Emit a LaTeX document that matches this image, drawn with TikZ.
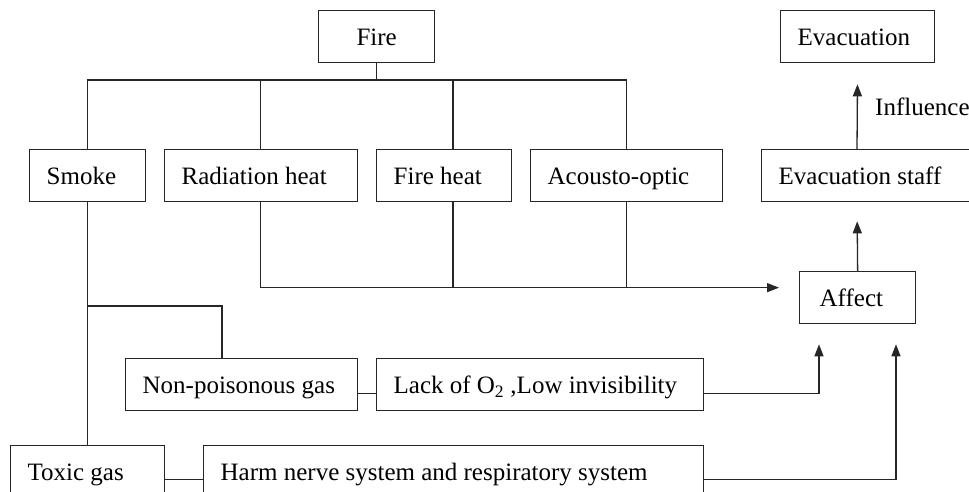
\documentclass[tikz,border=0pt]{standalone}
\usepackage{fontspec}
\setmainfont{Liberation Serif}
\usetikzlibrary{arrows.meta}
\newcommand{\bxstrut}{\rule[-6pt]{0pt}{30pt}}
\newcommand{\padl}[2]{\makebox[#1][l]{\hspace*{17pt}\bxstrut#2}}
\tikzset{
  box/.style={draw=black!85, line width=1.3pt, inner sep=0pt, minimum height=52pt, anchor=north west, font=\fontsize{25}{28}\selectfont},
  ln/.style={draw=black!85, line width=1.3pt},
  arr/.style={ln, -{Triangle[length=12pt,width=9pt]}},
}
\begin{document}
\begin{tikzpicture}[x=1pt,y=-1pt]
\useasboundingbox (0,0) rectangle (969,492);
\clip (0,0) rectangle (969,492);
\fill[white] (0,0) rectangle (969,492);
% boxes
\node[box, minimum width=116pt] (fire) at (318,10) {\bxstrut Fire};
\node[box] (evac) at (780,10) {\padl{154pt}{Evacuation}};
\node[box] (smoke) at (29,149) {\padl{116pt}{Smoke}};
\node[box] (rad) at (164,149) {\padl{193pt}{Radiation heat}};
\node[box] (fheat) at (376,149) {\padl{135pt}{Fire heat}};
\node[box] (acou) at (530,149) {\padl{192pt}{Acousto-optic}};
\node[box] (staff) at (761,149) {\padl{215pt}{Evacuation staff}};
\node[box] (affect) at (799,271) {\padl{116pt}{\hspace*{3pt}Affect}};
\node[box] (nonp) at (125,358) {\padl{232pt}{Non-poisonous gas}};
\node[box] (lack) at (376,358) {\padl{327pt}{Lack of O\textsubscript{2} ,Low invisibility}};
\node[box] (toxic) at (10,445) {\padl{154pt}{Toxic gas}};
\node[box] (harm) at (203,445) {\padl{500pt}{Harm nerve system and respiratory system}};
\node[anchor=west, inner sep=0pt, font=\fontsize{25}{28}\selectfont] (infl) at (875,107) {Influence};
% tree from fire
\coordinate (bus) at (0,80);
\draw[ln] (fire.south) -- (fire.south |- bus);
\draw[ln] (smoke.north) -- (smoke.north |- bus) -- (acou.north |- bus) -- (acou.north);
\draw[ln] ([xshift=-0.5pt]rad.north) -- ([xshift=-0.5pt]rad.north |- bus);
\draw[ln] ([xshift=77pt]fheat.north west) -- ([xshift=77pt]fheat.north west |- bus);
% heat etc to affect
\coordinate (hl) at ([xshift=-20pt,yshift=10pt]affect.west);
\draw[arr] ([xshift=-0.5pt]rad.south) |- (hl);
\draw[ln] ([xshift=77pt]fheat.south west) -- ([xshift=77pt]fheat.south west |- hl);
\draw[ln] (acou.south) -- (acou.south |- hl);
% affect to staff, staff to evacuation
\draw[arr, shorten >=19pt] (affect.north) -- ([xshift=96pt]staff.south west);
\draw[arr, shorten >=21pt] ([xshift=96pt]staff.north west) -- (evac.south);
% smoke branches
\draw[ln] (smoke.south) -- (toxic.north);
\draw[ln] ([xshift=97pt]nonp.north west) |- (smoke.south |- 0,306);
\draw[ln] ([yshift=-9pt]nonp.east) -- ([yshift=-9pt]lack.west);
\draw[arr] ([yshift=-9pt]lack.east) -| ([xshift=20pt,yshift=-20pt]affect.south west);
\draw[ln] ([yshift=-8pt]toxic.east) -- ([yshift=-8pt]harm.west);
\draw[arr] ([yshift=-8pt]harm.east) -| ([xshift=97pt,yshift=-20pt]affect.south west);
\end{tikzpicture}
\end{document}
